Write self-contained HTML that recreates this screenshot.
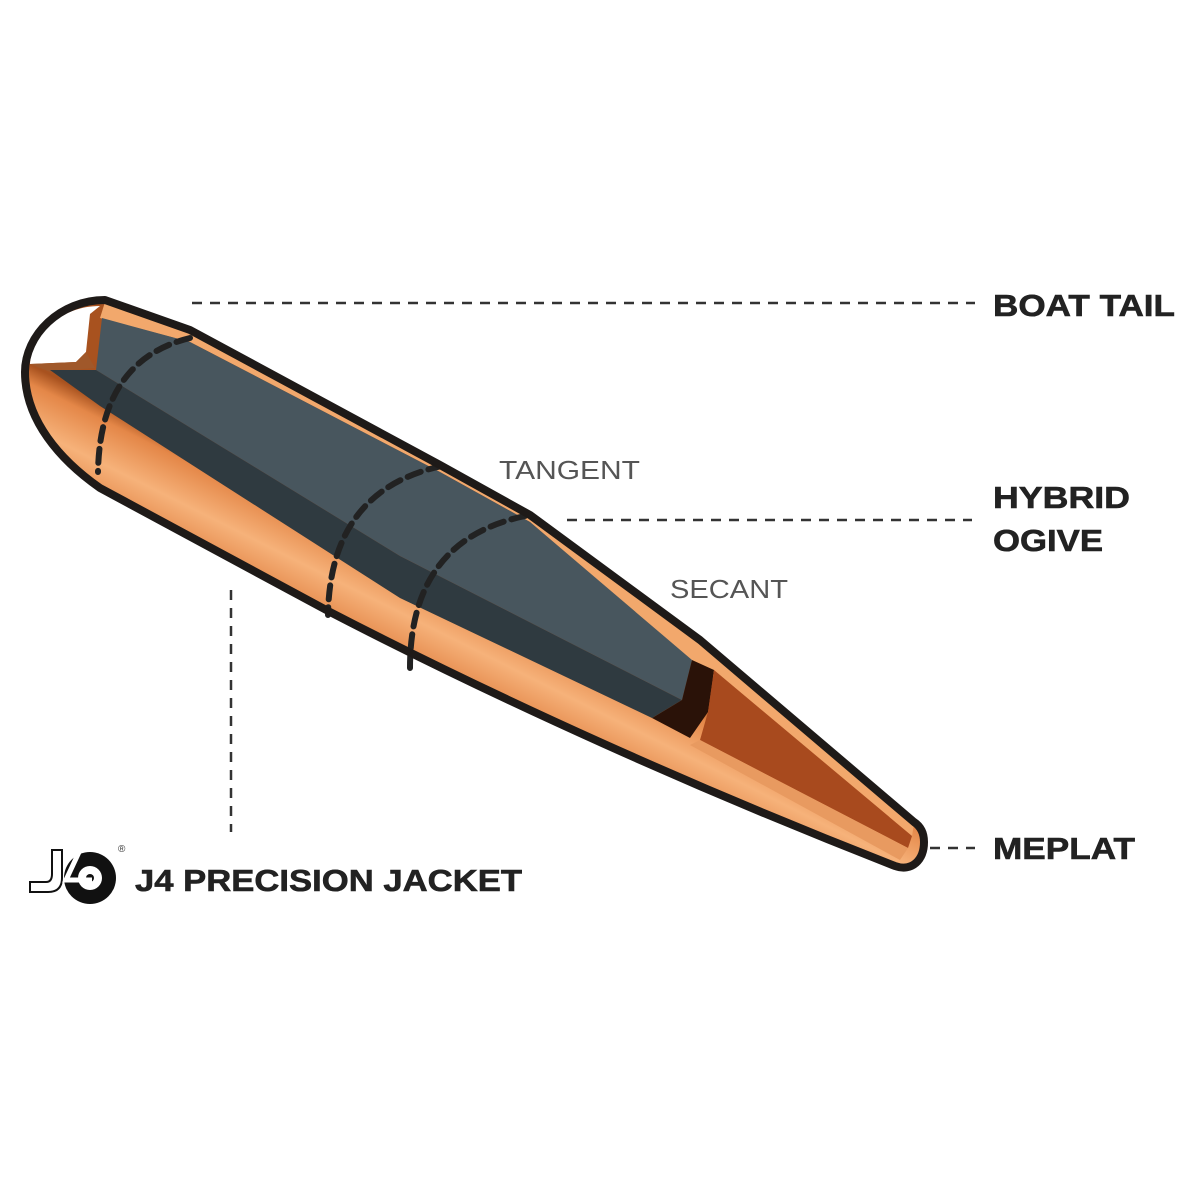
<!DOCTYPE html>
<html><head><meta charset="utf-8"><style>
html,body{margin:0;padding:0;background:#fff;}
svg{display:block;}
text{font-family:"Liberation Sans",sans-serif;}
</style></head><body>
<svg width="1200" height="1200" viewBox="0 0 1200 1200" xmlns="http://www.w3.org/2000/svg">
<defs>
<linearGradient id="cu" gradientUnits="userSpaceOnUse" x1="420" y1="560" x2="370" y2="660">
<stop offset="0" stop-color="#a8521f"/>
<stop offset="0.15" stop-color="#e48748"/>
<stop offset="0.5" stop-color="#f6b27a"/>
<stop offset="0.85" stop-color="#e4884a"/>
<stop offset="1" stop-color="#a8521f"/>
</linearGradient>
</defs>
<g stroke="#333" stroke-width="2.5" stroke-dasharray="10,8" fill="none">
<line x1="192" y1="303" x2="975" y2="303"/>
<line x1="567" y1="520" x2="972" y2="520"/>
<line x1="930" y1="848" x2="975" y2="848"/>
<line x1="231" y1="590" x2="231" y2="832"/>
</g>
<path d="M105,300 C60,300 25,335 25,372 C25,420 60,460 100,488 L330,612 C500,700 700,790 895,866 C912,872 924,860 924,842 C924,832 920,826 914,822 L700,640 L530,515 L440,465 L190,330 Z" fill="url(#cu)"/>
<path d="M105,302 L190,332 L440,467 L530,517 L700,642 L914,824 L912,836 L690,660 L530,522 L440,472 L190,342 L100,318 Z" fill="#f2a86c"/>
<path d="M100,306 C60,306 32,335 30,364 L76,362 L86,352 L90,314 Z" fill="#fff"/>
<path d="M30,364 L76,362 L86,352 L95,368 L50,372 Z" fill="#a0582a"/>
<path d="M102,318 L190,342 L440,472 L530,522 L692,660 L682,700 L400,556 L96,370 Z" fill="#48565e"/>
<path d="M50,370 L96,370 L400,556 L682,700 L652,718 L400,598 L100,406 Z" fill="#2f3a40"/>
<path d="M652,718 L682,700 L692,660 L714,670 L708,712 L690,738 Z" fill="#2a1208"/>
<path d="M714,670 L912,836 L908,848 L700,740 L708,712 Z" fill="#a84a1e"/>
<path d="M700,740 L908,848 L900,860 L690,745 Z" fill="#e89a60"/>
<g stroke="#222" stroke-width="6" stroke-dasharray="14,8" fill="none" stroke-linecap="round">
<path d="M190,338 Q100,360 98,472"/>
<path d="M442,466 Q330,490 328,615"/>
<path d="M525,516 Q410,540 410,668"/>
</g>
<path d="M105,300 C60,300 25,335 25,372 C25,420 60,460 100,488 L330,612 C500,700 700,790 895,866 C912,872 924,860 924,842 C924,832 920,826 914,822 L700,640 L530,515 L440,465 L190,330 Z" fill="none" stroke="#1e1a18" stroke-width="8" stroke-linejoin="round"/>
<g font-weight="bold" font-size="31" fill="#222" stroke="#222" stroke-width="0.6">
<text x="993" y="316" textLength="182" lengthAdjust="spacingAndGlyphs">BOAT TAIL</text>
<text x="993" y="508" textLength="137" lengthAdjust="spacingAndGlyphs">HYBRID</text>
<text x="993" y="551" textLength="110" lengthAdjust="spacingAndGlyphs">OGIVE</text>
<text x="993" y="859" textLength="142" lengthAdjust="spacingAndGlyphs">MEPLAT</text>
<text x="135" y="891" textLength="387" lengthAdjust="spacingAndGlyphs">J4 PRECISION JACKET</text>
</g>
<g font-size="26" fill="#555">
<text x="499" y="479" textLength="141" lengthAdjust="spacingAndGlyphs">TANGENT</text>
<text x="670" y="598" textLength="118" lengthAdjust="spacingAndGlyphs">SECANT</text>
</g>
<circle cx="90" cy="878" r="26" fill="#111"/>
<circle cx="90" cy="878" r="12" fill="#fff"/>
<circle cx="90" cy="878" r="4" fill="#111"/>
<path d="M62,850 L62,878 Q62,892 48,892 L30,892 L30,882 L46,882 Q52,882 52,874 L52,850 Z" fill="#fff" stroke="#111" stroke-width="2"/>
<path d="M80,850 L66,880 L92,880" fill="none" stroke="#fff" stroke-width="5"/>
<text x="118" y="852" font-size="10" fill="#333">®</text>
</svg>
</body></html>
